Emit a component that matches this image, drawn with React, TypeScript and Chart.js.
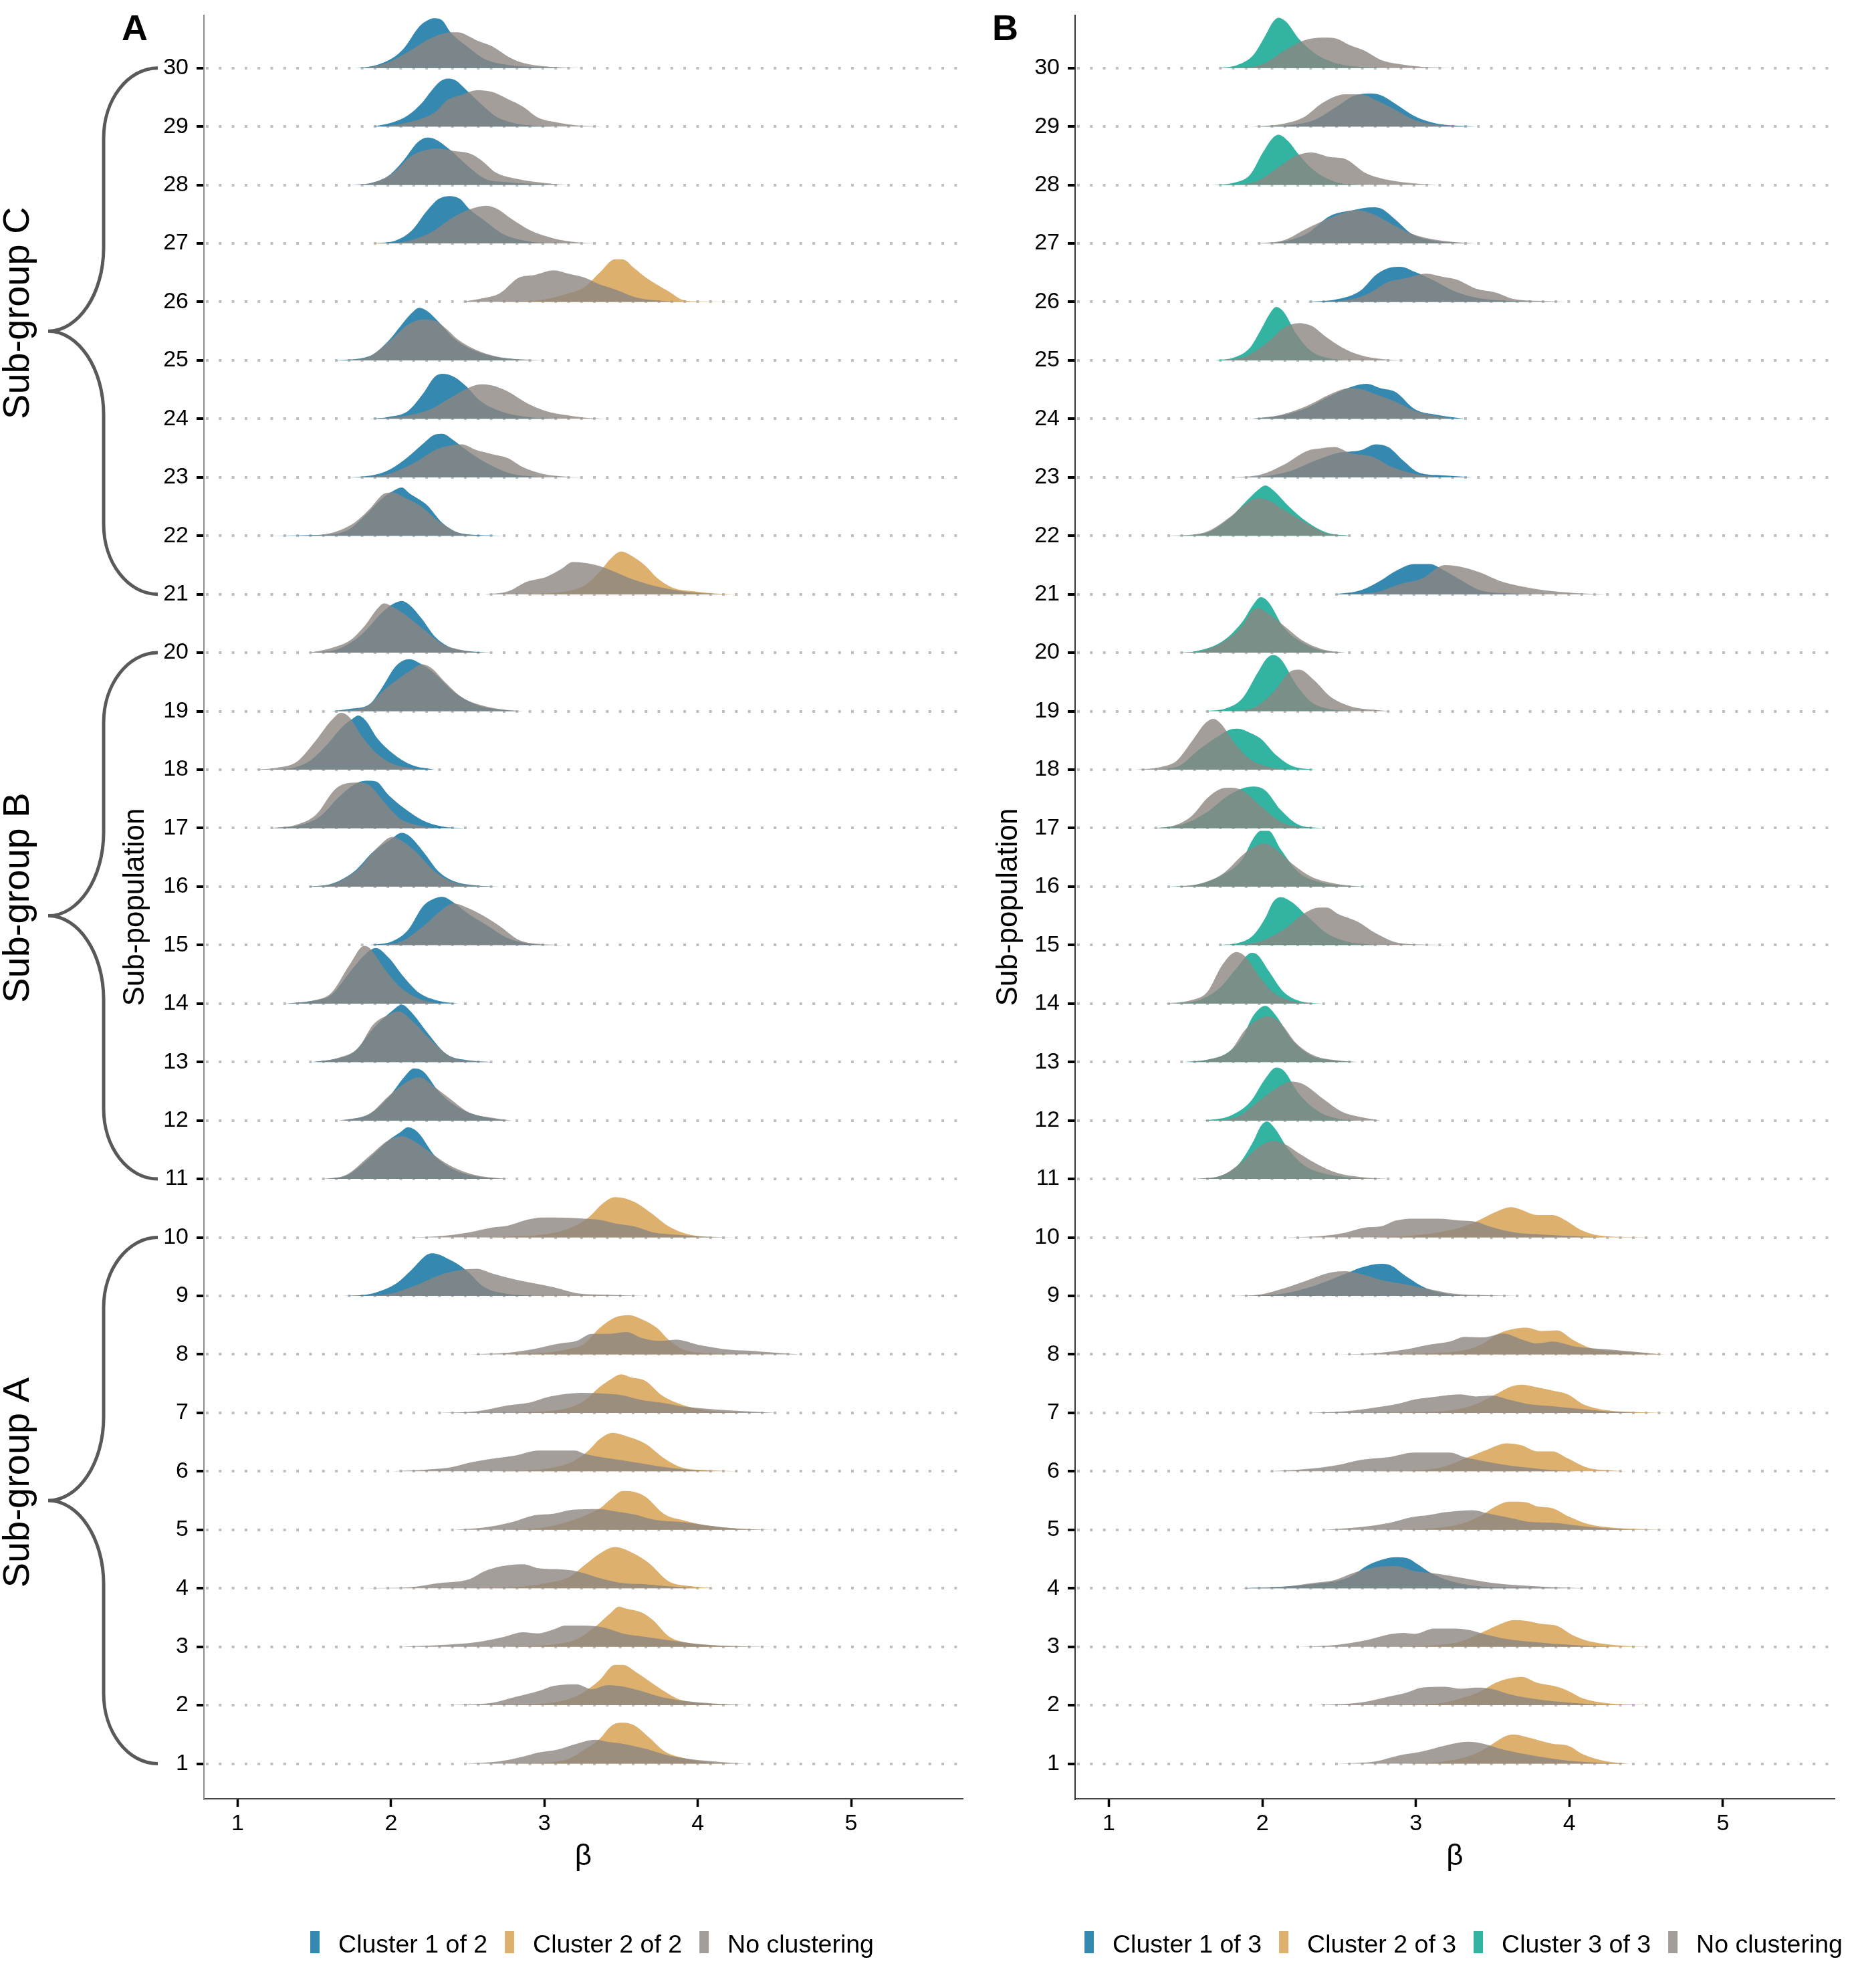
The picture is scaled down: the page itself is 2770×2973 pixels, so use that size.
import React, { useEffect, useRef } from "react";
import { Chart, registerables } from "chart.js";

Chart.register(...registerables);

const FONT = '"Liberation Sans", Arial, Helvetica, sans-serif';

// ---------------- tick labels / categories ----------------
const Y_TICKS = [1, 2, 3, 4, 5, 6, 7, 8, 9, 10, 11, 12, 13, 14, 15, 16, 17, 18, 19, 20, 21, 22, 23, 24, 25, 26, 27, 28, 29, 30];
const X_TICKS = [1, 2, 3, 4, 5];
const LEGEND_A = ["Cluster 1 of 2", "Cluster 2 of 2", "No clustering"];
const LEGEND_B = ["Cluster 1 of 3", "Cluster 2 of 3", "Cluster 3 of 3", "No clustering"];
const SUBGROUPS = [
  { label: "Sub-group A", from: 1, to: 10 },
  { label: "Sub-group B", from: 11, to: 20 },
  { label: "Sub-group C", from: 21, to: 30 },
];

// ---------------- densities: row -> [beta, height(rows), beta, height, ...] ----------------
const A_CLUSTER_1: Record<number, number[]> = {
  30: [1.76, 0, 1.81, .007, 1.91, .054, 2.01, .17, 2.085, .34, 2.185, .71, 2.235, .81, 2.28, .85, 2.335, .81, 2.385, .62, 2.51, .34, 2.61, .155, 2.76, .054, 2.91, .02, 3.135, 0],
  29: [1.885, 0, 2.01, .07, 2.11, .19, 2.2, .4, 2.26, .6, 2.32, .77, 2.37, .82, 2.42, .79, 2.485, .64, 2.585, .39, 2.685, .17, 2.81, .054, 2.935, .013, 3.06, 0],
  28: [1.735, 0, 1.86, .027, 1.985, .16, 2.085, .43, 2.17, .72, 2.235, .81, 2.285, .785, 2.385, .6, 2.485, .36, 2.61, .11, 2.76, .047, 2.96, .013, 3.085, 0],
  27: [1.885, 0, 2.035, .054, 2.135, .22, 2.235, .56, 2.31, .76, 2.385, .81, 2.45, .76, 2.51, .59, 2.61, .39, 2.735, .154, 2.885, .04, 3.01, 0],
  25: [1.635, 0, 1.86, .074, 1.985, .34, 2.06, .58, 2.135, .81, 2.185, .9, 2.235, .845, 2.31, .66, 2.41, .376, 2.51, .208, 2.66, .074, 2.81, .02, 2.91, 0],
  24: [1.86, 0, 1.985, .034, 2.11, .134, 2.21, .436, 2.285, .72, 2.335, .77, 2.41, .72, 2.485, .57, 2.585, .3, 2.71, .134, 2.885, .034, 3.06, 0],
  23: [1.635, 0, 1.81, .013, 1.96, .094, 2.085, .295, 2.21, .577, 2.285, .73, 2.335, .745, 2.41, .63, 2.51, .43, 2.635, .228, 2.785, .06, 2.935, .013, 3.06, 0],
  22: [1.21, 0, 1.51, .013, 1.71, .087, 1.835, .356, 1.935, .624, 2.01, .76, 2.07, .825, 2.12, .725, 2.235, .523, 2.335, .22, 2.46, .04, 2.66, .007, 2.735, 0],
  20: [1.485, 0, 1.66, .067, 1.81, .315, 1.935, .67, 2.01, .83, 2.07, .885, 2.12, .82, 2.2, .584, 2.285, .28, 2.385, .094, 2.51, .027, 2.66, 0],
  19: [1.61, 0, 1.735, .04, 1.86, .12, 1.935, .376, 2.035, .78, 2.12, .89, 2.185, .825, 2.285, .644, 2.41, .33, 2.56, .107, 2.735, .02, 2.835, 0],
  18: [1.135, 0, 1.31, .013, 1.46, .134, 1.585, .436, 1.685, .74, 1.75, .872, 1.785, .926, 1.835, .84, 1.91, .537, 2.01, .28, 2.135, .08, 2.285, 0],
  17: [1.235, 0, 1.385, .04, 1.535, .195, 1.66, .53, 1.76, .745, 1.835, .81, 1.9, .8, 1.985, .564, 2.085, .342, 2.21, .128, 2.335, .027, 2.485, 0],
  16: [1.46, 0, 1.61, .047, 1.76, .26, 1.885, .6, 1.995, .8, 2.07, .92, 2.12, .866, 2.21, .6, 2.31, .26, 2.41, .094, 2.56, .02, 2.71, 0],
  15: [1.86, 0, 2.01, .067, 2.11, .255, 2.21, .67, 2.285, .8, 2.335, .825, 2.41, .725, 2.51, .523, 2.635, .322, 2.76, .12, 2.91, .02, 3.06, 0],
  14: [1.31, 0, 1.485, .047, 1.61, .148, 1.735, .55, 1.835, .85, 1.9, .95, 1.985, .785, 2.085, .45, 2.185, .18, 2.31, .047, 2.435, 0],
  13: [1.485, 0, 1.635, .054, 1.76, .174, 1.885, .577, 2.01, .88, 2.07, .98, 2.135, .846, 2.235, .51, 2.36, .14, 2.51, .027, 2.66, 0],
  12: [1.685, 0, 1.86, .114, 1.985, .4, 2.085, .74, 2.15, .89, 2.21, .84, 2.31, .5, 2.41, .27, 2.51, .134, 2.66, .034, 2.76, 0],
  11: [1.585, 0, 1.71, .06, 1.86, .36, 1.985, .664, 2.06, .8, 2.11, .886, 2.175, .8, 2.285, .4, 2.41, .16, 2.56, .04, 2.71, 0],
  9: [1.685, 0, 1.81, .013, 1.91, .067, 2.035, .215, 2.135, .45, 2.235, .705, 2.27, .73, 2.385, .617, 2.485, .45, 2.61, .148, 2.76, .034, 2.96, 0],
};

const A_CLUSTER_2: Record<number, number[]> = {
  26: [2.71, 0, 2.96, .027, 3.135, .128, 3.26, .25, 3.36, .5, 3.46, .73, 3.51, .73, 3.585, .58, 3.66, .42, 3.81, .18, 3.91, .027, 4.01, .007, 4.26, 0],
  21: [2.885, 0, 3.135, .047, 3.26, .148, 3.36, .383, 3.435, .617, 3.5, .73, 3.56, .67, 3.66, .483, 3.735, .28, 3.835, .114, 3.985, .047, 4.11, .013, 4.26, 0],
  10: [2.51, 0, 2.76, .013, 3.01, .054, 3.16, .154, 3.285, .336, 3.385, .59, 3.46, .69, 3.585, .61, 3.71, .39, 3.81, .188, 3.935, .054, 4.085, .007, 4.26, 0],
  8: [2.76, 0, 3.01, .027, 3.16, .094, 3.26, .18, 3.36, .45, 3.46, .63, 3.55, .67, 3.635, .6, 3.735, .45, 3.81, .25, 3.91, .08, 4.06, .02, 4.26, 0],
  7: [2.81, 0, 3.01, .027, 3.16, .087, 3.26, .208, 3.36, .443, 3.435, .577, 3.5, .658, 3.56, .61, 3.66, .544, 3.76, .31, 3.86, .175, 3.985, .074, 4.135, .02, 4.31, 0],
  6: [2.635, 0, 2.885, .013, 3.06, .067, 3.185, .168, 3.285, .35, 3.36, .55, 3.445, .658, 3.535, .6, 3.66, .47, 3.785, .215, 3.91, .054, 4.06, .02, 4.26, 0],
  5: [2.71, 0, 2.96, .027, 3.16, .14, 3.26, .24, 3.36, .362, 3.435, .53, 3.51, .664, 3.585, .65, 3.66, .564, 3.785, .262, 3.91, .16, 4.06, .074, 4.26, .02, 4.46, 0],
  4: [2.51, 0, 2.81, .02, 3.01, .087, 3.16, .188, 3.26, .39, 3.36, .59, 3.46, .705, 3.585, .59, 3.685, .423, 3.81, .12, 3.96, .034, 4.11, 0],
  3: [2.76, 0, 3.01, .027, 3.21, .128, 3.335, .35, 3.435, .584, 3.485, .685, 3.535, .65, 3.635, .584, 3.71, .45, 3.81, .18, 3.91, .08, 4.06, .034, 4.31, 0],
  2: [2.71, 0, 2.96, .02, 3.16, .107, 3.26, .228, 3.36, .43, 3.46, .69, 3.51, .69, 3.61, .544, 3.76, .275, 3.885, .094, 4.06, .027, 4.26, 0],
  1: [2.76, 0, 3.01, .02, 3.16, .087, 3.26, .24, 3.36, .423, 3.435, .644, 3.5, .7, 3.585, .658, 3.685, .443, 3.785, .208, 3.91, .094, 4.06, .027, 4.26, 0],
};

const A_NO_CLUSTERING: Record<number, number[]> = {
  30: [1.81, 0, 1.96, .074, 2.11, .275, 2.26, .51, 2.36, .6, 2.435, .61, 2.51, .54, 2.56, .47, 2.66, .37, 2.76, .2, 2.86, .087, 3.01, .027, 3.135, .007, 3.26, 0],
  29: [1.935, 0, 2.085, .054, 2.235, .17, 2.3, .27, 2.36, .44, 2.46, .54, 2.56, .62, 2.66, .59, 2.76, .47, 2.86, .34, 2.96, .15, 3.085, .067, 3.21, .02, 3.385, 0],
  28: [1.76, 0, 1.885, .04, 2.01, .195, 2.135, .5, 2.235, .6, 2.31, .62, 2.41, .58, 2.51, .54, 2.585, .43, 2.685, .21, 2.81, .11, 2.96, .047, 3.11, .007, 3.16, 0],
  27: [1.935, 0, 2.11, .04, 2.26, .19, 2.41, .456, 2.51, .58, 2.62, .644, 2.685, .6, 2.785, .42, 2.91, .22, 3.06, .087, 3.21, .02, 3.36, 0],
  26: [2.46, 0, 2.61, .067, 2.71, .148, 2.835, .416, 2.935, .46, 3.06, .54, 3.16, .48, 3.26, .416, 3.36, .3, 3.46, .215, 3.61, .067, 3.76, .02, 3.91, 0],
  25: [1.71, 0, 1.86, .067, 2.01, .376, 2.11, .61, 2.21, .7, 2.285, .68, 2.36, .54, 2.435, .36, 2.56, .174, 2.71, .054, 2.885, .013, 3.01, 0],
  24: [1.885, 0, 2.085, .047, 2.26, .168, 2.385, .356, 2.51, .537, 2.585, .59, 2.66, .57, 2.76, .47, 2.885, .27, 3.01, .134, 3.135, .067, 3.26, .02, 3.41, 0],
  23: [1.76, 0, 1.96, .04, 2.16, .26, 2.285, .463, 2.36, .53, 2.46, .564, 2.56, .463, 2.66, .396, 2.76, .33, 2.86, .174, 2.985, .06, 3.135, .013, 3.31, 0],
  22: [1.385, 0, 1.585, .034, 1.76, .22, 1.86, .456, 1.96, .725, 2.01, .74, 2.085, .658, 2.185, .523, 2.31, .255, 2.435, .054, 2.56, .007, 2.635, 0],
  21: [2.61, 0, 2.76, .047, 2.885, .215, 3.01, .295, 3.11, .43, 3.185, .55, 3.26, .537, 3.36, .483, 3.46, .383, 3.56, .27, 3.71, .148, 3.91, .047, 4.06, .013, 4.21, 0],
  20: [1.46, 0, 1.61, .08, 1.735, .215, 1.835, .483, 1.91, .75, 1.955, .845, 2.01, .785, 2.11, .617, 2.235, .35, 2.335, .148, 2.46, .047, 2.56, 0],
  19: [1.635, 0, 1.835, .074, 1.96, .376, 2.06, .577, 2.135, .71, 2.2, .8, 2.26, .745, 2.36, .477, 2.46, .24, 2.61, .087, 2.76, .02, 2.86, 0],
  18: [1.11, 0, 1.26, .034, 1.385, .134, 1.51, .5, 1.61, .84, 1.675, .973, 1.725, .906, 1.81, .57, 1.91, .27, 2.01, .1, 2.11, .034, 2.21, 0],
  17: [1.21, 0, 1.385, .06, 1.51, .228, 1.635, .664, 1.71, .765, 1.785, .78, 1.86, .73, 1.96, .43, 2.06, .16, 2.16, .06, 2.285, 0],
  16: [1.485, 0, 1.635, .06, 1.785, .295, 1.91, .664, 2.01, .85, 2.06, .8, 2.16, .6, 2.285, .26, 2.41, .074, 2.56, .013, 2.66, 0],
  15: [1.91, 0, 2.06, .054, 2.21, .322, 2.31, .557, 2.41, .71, 2.51, .624, 2.61, .49, 2.71, .322, 2.835, .087, 2.96, .02, 3.135, 0],
  14: [1.335, 0, 1.51, .06, 1.61, .18, 1.735, .685, 1.825, .986, 1.86, .95, 1.96, .584, 2.06, .28, 2.185, .08, 2.31, 0],
  13: [1.51, 0, 1.66, .074, 1.785, .24, 1.885, .644, 1.985, .81, 2.05, .866, 2.135, .71, 2.26, .376, 2.385, .094, 2.56, .013, 2.66, 0],
  12: [1.66, 0, 1.86, .114, 1.985, .42, 2.11, .67, 2.185, .74, 2.285, .57, 2.385, .37, 2.51, .134, 2.66, .047, 2.785, 0],
  11: [1.56, 0, 1.71, .074, 1.86, .396, 1.985, .664, 2.07, .73, 2.16, .63, 2.285, .396, 2.41, .195, 2.56, .06, 2.76, 0],
  10: [2.11, 0, 2.31, .02, 2.51, .087, 2.66, .168, 2.76, .2, 2.885, .3, 2.985, .342, 3.16, .336, 3.26, .32, 3.36, .3, 3.46, .24, 3.585, .188, 3.71, .087, 3.86, .047, 4.06, .013, 4.26, 0],
  9: [1.81, 0, 2.01, .047, 2.16, .18, 2.31, .35, 2.435, .436, 2.56, .463, 2.66, .383, 2.81, .28, 2.935, .215, 3.06, .148, 3.21, .047, 3.41, .02, 3.66, 0],
  8: [2.51, 0, 2.76, .027, 2.935, .094, 3.085, .18, 3.21, .23, 3.31, .35, 3.41, .35, 3.535, .383, 3.635, .28, 3.76, .23, 3.86, .25, 4.01, .16, 4.21, .08, 4.36, .06, 4.51, .027, 4.66, 0],
  7: [2.31, 0, 2.56, .027, 2.76, .128, 2.91, .18, 3.01, .262, 3.135, .322, 3.26, .342, 3.385, .33, 3.51, .3, 3.635, .22, 3.76, .175, 3.91, .107, 4.11, .06, 4.31, .027, 4.51, 0],
  6: [2.01, 0, 2.26, .034, 2.385, .067, 2.51, .148, 2.66, .215, 2.81, .27, 2.96, .356, 3.085, .356, 3.2, .356, 3.26, .3, 3.385, .235, 3.51, .188, 3.635, .134, 3.76, .08, 3.91, .034, 4.11, 0],
  5: [2.41, 0, 2.61, .04, 2.785, .128, 2.935, .248, 3.06, .275, 3.185, .342, 3.36, .356, 3.46, .315, 3.585, .262, 3.71, .174, 3.91, .128, 4.06, .074, 4.26, .02, 4.51, 0],
  4: [1.81, 0, 2.135, .02, 2.31, .087, 2.51, .154, 2.61, .29, 2.71, .37, 2.86, .41, 2.96, .342, 3.11, .322, 3.21, .29, 3.36, .174, 3.51, .087, 3.66, .067, 3.81, .034, 4.01, 0],
  3: [2.06, 0, 2.31, .027, 2.56, .08, 2.735, .168, 2.86, .248, 2.96, .228, 3.06, .295, 3.135, .362, 3.26, .362, 3.385, .33, 3.51, .228, 3.66, .168, 3.86, .094, 4.06, .034, 4.31, .007, 4.51, 0],
  2: [2.36, 0, 2.66, .04, 2.81, .14, 2.96, .24, 3.06, .33, 3.21, .356, 3.31, .275, 3.41, .342, 3.51, .322, 3.635, .24, 3.76, .14, 3.91, .074, 4.11, .027, 4.31, 0],
  1: [2.485, 0, 2.71, .04, 2.86, .12, 2.96, .188, 3.085, .24, 3.185, .322, 3.335, .41, 3.41, .376, 3.51, .342, 3.66, .255, 3.81, .14, 3.96, .074, 4.16, .027, 4.31, 0],
};

const B_CLUSTER_1: Record<number, number[]> = {
  29: [1.97, 0, 2.19, .027, 2.34, .114, 2.49, .35, 2.59, .517, 2.69, .564, 2.77, .537, 2.87, .383, 2.99, .18, 3.12, .06, 3.32, .007, 3.39, 0],
  27: [1.97, 0, 2.14, .034, 2.29, .168, 2.44, .47, 2.59, .57, 2.72, .617, 2.77, .6, 2.87, .4, 2.97, .168, 3.12, .047, 3.32, .007, 3.42, 0],
  26: [2.29, 0, 2.49, .047, 2.64, .195, 2.74, .463, 2.82, .577, 2.9, .6, 2.99, .517, 3.12, .362, 3.24, .195, 3.39, .074, 3.59, .02, 3.79, 0],
  24: [1.94, 0, 2.14, .067, 2.29, .188, 2.44, .39, 2.59, .557, 2.68, .6, 2.77, .523, 2.87, .456, 2.99, .17, 3.14, .067, 3.32, 0],
  23: [1.79, 0, 2.04, .027, 2.19, .114, 2.34, .28, 2.49, .416, 2.64, .463, 2.74, .564, 2.82, .517, 2.92, .28, 3.02, .08, 3.17, .034, 3.37, 0],
  21: [2.47, 0, 2.64, .067, 2.77, .235, 2.87, .4, 2.99, .517, 3.09, .517, 3.19, .4, 3.29, .248, 3.42, .067, 3.62, .013, 3.74, 0],
  9: [1.94, 0, 2.14, .04, 2.34, .175, 2.54, .376, 2.64, .483, 2.77, .55, 2.83, .53, 2.94, .33, 3.07, .128, 3.22, .027, 3.39, 0],
  4: [1.87, 0, 2.14, .027, 2.34, .074, 2.49, .128, 2.57, .195, 2.69, .396, 2.79, .497, 2.87, .53, 2.94, .517, 3.02, .396, 3.09, .275, 3.22, .128, 3.39, .04, 3.74, .007, 3.99, 0],
};

const B_CLUSTER_2: Record<number, number[]> = {
  10: [2.74, 0, 2.99, .034, 3.24, .134, 3.39, .27, 3.52, .436, 3.62, .517, 3.69, .47, 3.79, .383, 3.89, .383, 3.97, .3, 4.07, .134, 4.19, .034, 4.39, .007, 4.54, 0],
  8: [2.74, 0, 3.12, .02, 3.34, .087, 3.44, .188, 3.54, .356, 3.64, .436, 3.72, .456, 3.82, .4, 3.92, .41, 4.02, .255, 4.14, .107, 4.29, .054, 4.49, .02, 4.64, 0],
  7: [2.74, 0, 3.09, .013, 3.24, .047, 3.39, .148, 3.52, .315, 3.62, .45, 3.69, .483, 3.79, .436, 3.89, .383, 3.99, .315, 4.09, .148, 4.24, .047, 4.44, .013, 4.64, 0],
  6: [2.74, 0, 3.04, .02, 3.19, .087, 3.34, .24, 3.47, .376, 3.59, .477, 3.69, .443, 3.79, .342, 3.89, .342, 3.99, .22, 4.12, .06, 4.29, .013, 4.39, 0],
  5: [2.84, 0, 3.09, .02, 3.29, .1, 3.42, .235, 3.52, .4, 3.61, .48, 3.72, .47, 3.79, .4, 3.89, .37, 3.99, .235, 4.12, .1, 4.29, .034, 4.54, .007, 4.64, 0],
  3: [2.74, 0, 3.09, .02, 3.29, .087, 3.44, .255, 3.54, .376, 3.64, .456, 3.72, .443, 3.82, .39, 3.92, .356, 4.02, .2, 4.14, .087, 4.34, .02, 4.54, 0],
  2: [2.74, 0, 3.14, .027, 3.29, .114, 3.42, .235, 3.52, .383, 3.62, .463, 3.69, .483, 3.79, .383, 3.92, .315, 3.99, .248, 4.09, .114, 4.24, .034, 4.44, .007, 4.59, 0],
  1: [2.94, 0, 3.19, .04, 3.39, .175, 3.49, .322, 3.59, .477, 3.64, .497, 3.74, .443, 3.89, .342, 3.99, .31, 4.09, .16, 4.24, .04, 4.39, 0],
};

const B_CLUSTER_3: Record<number, number[]> = {
  30: [1.72, 0, 1.84, .054, 1.94, .22, 2.02, .557, 2.07, .79, 2.105, .86, 2.155, .79, 2.24, .49, 2.34, .255, 2.49, .074, 2.64, .02, 2.79, 0],
  28: [1.67, 0, 1.82, .04, 1.92, .174, 2.0, .54, 2.07, .81, 2.105, .86, 2.17, .745, 2.24, .51, 2.34, .24, 2.49, .04, 2.64, 0],
  25: [1.69, 0, 1.82, .054, 1.92, .22, 1.99, .523, 2.055, .825, 2.09, .913, 2.14, .825, 2.22, .456, 2.32, .154, 2.44, .034, 2.54, 0],
  22: [1.44, 0, 1.62, .04, 1.79, .31, 1.89, .577, 1.97, .78, 2.02, .86, 2.07, .78, 2.17, .51, 2.29, .24, 2.42, .054, 2.57, 0],
  20: [1.44, 0, 1.57, .027, 1.74, .195, 1.87, .53, 1.94, .82, 1.99, .95, 2.04, .866, 2.14, .43, 2.27, .16, 2.39, .04, 2.54, 0],
  19: [1.62, 0, 1.77, .054, 1.87, .22, 1.97, .66, 2.03, .906, 2.07, .96, 2.12, .89, 2.22, .456, 2.32, .154, 2.44, .034, 2.59, 0],
  18: [1.24, 0, 1.44, .047, 1.59, .35, 1.72, .584, 1.79, .685, 1.84, .7, 1.92, .63, 1.99, .53, 2.09, .248, 2.19, .067, 2.34, 0],
  17: [1.32, 0, 1.49, .074, 1.64, .275, 1.77, .544, 1.87, .68, 1.94, .71, 2.02, .644, 2.12, .31, 2.24, .054, 2.39, 0],
  16: [1.39, 0, 1.57, .034, 1.74, .2, 1.87, .47, 1.94, .82, 1.99, .953, 2.04, .953, 2.12, .637, 2.24, .235, 2.37, .08, 2.54, .013, 2.69, 0],
  15: [1.72, 0, 1.84, .034, 1.94, .168, 2.02, .47, 2.07, .74, 2.12, .82, 2.19, .74, 2.29, .5, 2.42, .2, 2.54, .067, 2.69, .013, 2.79, 0],
  14: [1.42, 0, 1.59, .06, 1.72, .262, 1.84, .63, 1.93, .866, 1.97, .83, 2.04, .564, 2.14, .195, 2.24, .047, 2.39, 0],
  13: [1.49, 0, 1.64, .04, 1.77, .154, 1.87, .423, 1.94, .79, 2.02, .96, 2.09, .79, 2.19, .39, 2.32, .107, 2.47, .027, 2.59, 0],
  12: [1.62, 0, 1.79, .08, 1.92, .315, 2.02, .72, 2.09, .906, 2.14, .852, 2.24, .45, 2.37, .148, 2.49, .034, 2.64, 0],
  11: [1.57, 0, 1.72, .047, 1.84, .235, 1.94, .64, 1.99, .906, 2.03, .986, 2.08, .87, 2.17, .503, 2.27, .235, 2.39, .1, 2.54, .034, 2.69, 0],
};

const B_NO_CLUSTERING: Record<number, number[]> = {
  30: [1.79, 0, 1.99, .054, 2.14, .29, 2.27, .47, 2.39, .52, 2.47, .51, 2.57, .39, 2.67, .29, 2.77, .14, 2.89, .067, 3.04, .02, 3.24, 0],
  29: [1.92, 0, 2.12, .04, 2.27, .16, 2.39, .4, 2.54, .55, 2.64, .55, 2.74, .45, 2.87, .28, 2.99, .114, 3.14, .027, 3.32, 0],
  28: [1.74, 0, 1.94, .04, 2.09, .275, 2.22, .5, 2.32, .557, 2.44, .477, 2.54, .443, 2.67, .208, 2.82, .087, 2.99, .027, 3.14, 0],
  27: [1.97, 0, 2.14, .054, 2.29, .255, 2.44, .436, 2.62, .57, 2.72, .503, 2.84, .336, 2.97, .168, 3.09, .08, 3.24, .027, 3.39, 0],
  26: [2.34, 0, 2.54, .027, 2.69, .14, 2.82, .342, 2.92, .396, 3.07, .483, 3.17, .43, 3.27, .376, 3.39, .228, 3.52, .16, 3.64, .047, 3.84, .013, 3.97, 0],
  25: [1.74, 0, 1.89, .067, 2.04, .322, 2.14, .557, 2.24, .637, 2.32, .59, 2.42, .39, 2.52, .22, 2.64, .087, 2.79, .02, 2.94, 0],
  24: [1.92, 0, 2.12, .067, 2.29, .22, 2.44, .42, 2.57, .523, 2.64, .51, 2.74, .42, 2.87, .29, 2.99, .14, 3.12, .054, 3.24, 0],
  23: [1.79, 0, 1.99, .047, 2.14, .215, 2.29, .45, 2.39, .497, 2.47, .517, 2.57, .416, 2.72, .35, 2.84, .18, 2.99, .06, 3.14, 0],
  22: [1.39, 0, 1.62, .054, 1.79, .322, 1.89, .544, 1.97, .644, 2.04, .61, 2.14, .443, 2.27, .24, 2.42, .04, 2.59, 0],
  21: [2.49, 0, 2.74, .034, 2.89, .168, 3.04, .27, 3.19, .5, 3.29, .47, 3.42, .37, 3.54, .235, 3.69, .134, 3.84, .067, 4.04, .02, 4.24, 0],
  20: [1.47, 0, 1.62, .04, 1.77, .228, 1.87, .463, 1.93, .7, 1.97, .765, 2.04, .664, 2.14, .463, 2.27, .195, 2.39, .06, 2.54, 0],
  19: [1.79, 0, 1.94, .054, 2.07, .32, 2.19, .69, 2.24, .71, 2.34, .523, 2.44, .255, 2.57, .087, 2.74, .02, 2.84, 0],
  18: [1.17, 0, 1.34, .047, 1.44, .148, 1.54, .483, 1.63, .8, 1.68, .87, 1.73, .785, 1.82, .45, 1.92, .18, 2.04, .047, 2.17, 0],
  17: [1.27, 0, 1.42, .04, 1.54, .208, 1.64, .51, 1.72, .664, 1.79, .69, 1.87, .644, 1.99, .376, 2.12, .107, 2.24, .02, 2.34, 0],
  16: [1.44, 0, 1.59, .047, 1.74, .215, 1.87, .537, 1.94, .67, 2.01, .74, 2.09, .637, 2.19, .4, 2.32, .168, 2.47, .054, 2.64, 0],
  15: [1.82, 0, 1.99, .067, 2.14, .27, 2.27, .537, 2.37, .64, 2.42, .64, 2.49, .537, 2.62, .4, 2.74, .2, 2.89, .034, 3.07, .007, 3.24, 0],
  14: [1.37, 0, 1.54, .06, 1.64, .195, 1.74, .664, 1.83, .88, 1.89, .8, 1.97, .497, 2.07, .195, 2.19, .047, 2.34, 0],
  13: [1.52, 0, 1.67, .054, 1.79, .188, 1.89, .557, 1.97, .725, 2.04, .78, 2.12, .66, 2.22, .322, 2.34, .107, 2.49, .027, 2.62, 0],
  12: [1.62, 0, 1.82, .047, 1.97, .315, 2.09, .55, 2.19, .664, 2.27, .617, 2.39, .383, 2.52, .148, 2.64, .06, 2.77, 0],
  11: [1.57, 0, 1.74, .067, 1.87, .3, 1.97, .537, 2.07, .65, 2.14, .604, 2.24, .436, 2.37, .235, 2.49, .1, 2.64, .034, 2.82, 0],
  10: [2.14, 0, 2.37, .02, 2.54, .08, 2.67, .168, 2.77, .188, 2.87, .29, 2.99, .322, 3.14, .322, 3.29, .29, 3.39, .27, 3.49, .18, 3.64, .087, 3.84, .047, 4.04, .02, 4.24, 0],
  9: [1.79, 0, 1.99, .027, 2.14, .128, 2.29, .262, 2.44, .396, 2.54, .423, 2.64, .376, 2.79, .262, 2.94, .195, 3.09, .114, 3.24, .04, 3.44, .013, 3.69, 0],
  8: [2.49, 0, 2.74, .02, 2.94, .087, 3.09, .168, 3.22, .22, 3.32, .3, 3.44, .29, 3.57, .356, 3.69, .255, 3.79, .188, 3.89, .22, 4.04, .134, 4.24, .087, 4.39, .054, 4.59, 0],
  7: [2.29, 0, 2.54, .027, 2.74, .094, 2.89, .16, 2.99, .228, 3.14, .28, 3.29, .315, 3.39, .28, 3.49, .295, 3.62, .215, 3.74, .148, 3.89, .114, 4.07, .067, 4.24, .027, 4.44, 0],
  6: [2.04, 0, 2.29, .04, 2.49, .107, 2.64, .195, 2.82, .24, 2.99, .322, 3.12, .322, 3.22, .322, 3.32, .24, 3.44, .175, 3.59, .107, 3.74, .06, 3.89, .02, 4.04, 0],
  5: [2.39, 0, 2.64, .047, 2.82, .114, 2.97, .215, 3.09, .255, 3.19, .3, 3.37, .336, 3.47, .28, 3.62, .2, 3.74, .134, 3.89, .12, 4.07, .067, 4.24, .027, 4.44, 0],
  4: [1.87, 0, 2.14, .027, 2.34, .094, 2.47, .14, 2.59, .26, 2.74, .36, 2.87, .38, 2.99, .295, 3.14, .248, 3.34, .16, 3.49, .094, 3.69, .047, 3.94, .013, 4.09, 0],
  3: [2.24, 0, 2.49, .034, 2.69, .12, 2.82, .208, 2.92, .235, 2.99, .22, 3.12, .31, 3.24, .31, 3.34, .29, 3.44, .22, 3.59, .134, 3.74, .087, 3.89, .054, 4.09, .02, 4.29, 0],
  2: [2.34, 0, 2.64, .047, 2.79, .128, 2.94, .215, 3.04, .3, 3.19, .315, 3.29, .28, 3.39, .3, 3.49, .28, 3.62, .18, 3.79, .1, 3.99, .047, 4.19, .013, 4.34, 0],
  1: [2.49, 0, 2.74, .04, 2.89, .14, 3.04, .208, 3.19, .31, 3.34, .376, 3.44, .342, 3.57, .24, 3.69, .175, 3.84, .107, 4.04, .04, 4.24, .013, 4.39, 0],
};

// ---------------- styles ----------------
const COL_C1 = "rgba(2,107,157,0.8)";
const COL_C2 = "rgba(212,156,74,0.8)";
const COL_C3 = "rgba(0,160,139,0.8)";
const COL_NONE = "rgba(140,134,129,0.8)";

type Series = { data: Record<number, number[]>; color: string };

function makeDataset(row: number, flat: number[], color: string) {
  const pts: { x: number; y: number }[] = [];
  for (let i = 0; i < flat.length; i += 2) pts.push({ x: flat[i], y: row + flat[i + 1] });
  return {
    data: pts,
    fill: { value: row },
    backgroundColor: color,
    borderColor: "rgba(0,0,0,0)",
    borderWidth: 0,
    pointRadius: 0,
    pointHoverRadius: 0,
    cubicInterpolationMode: "monotone" as const,
  };
}

function buildDatasets(clusters: Series[], none: Record<number, number[]>) {
  const ds: any[] = [];
  // lower rows first (drawn on top), grey drawn above the cluster within a row
  for (const row of Y_TICKS) {
    if (none[row]) ds.push(makeDataset(row, none[row], COL_NONE));
    for (const s of clusters) if (s.data[row]) ds.push(makeDataset(row, s.data[row], s.color));
  }
  return ds;
}

type PanelOpts = {
  letter: string;
  letterX: number;
  yAxisWidth: number;
  yTitlePad: number;
  padRight: number;
  yAxisColor: string;
  legend: { label: string; color: string }[];
  braces: boolean;
};

function drawBrace(ctx: CanvasRenderingContext2D, yTop: number, yBot: number) {
  const xEnd = 236, xStem = 155, xTip = 72;
  const yMid = (yTop + yBot) / 2;
  const rEnd = 105, rTip = 125, k = 0.55;
  const dxE = xEnd - xStem, dxT = xStem - xTip;
  ctx.beginPath();
  ctx.moveTo(xEnd, yTop);
  ctx.bezierCurveTo(xStem + dxE * (1 - k), yTop, xStem, yTop + rEnd * (1 - k), xStem, yTop + rEnd);
  ctx.lineTo(xStem, yMid - rTip);
  ctx.bezierCurveTo(xStem, yMid - rTip * (1 - k), xTip + dxT * k, yMid, xTip, yMid);
  ctx.bezierCurveTo(xTip + dxT * k, yMid, xStem, yMid + rTip * (1 - k), xStem, yMid + rTip);
  ctx.lineTo(xStem, yBot - rEnd);
  ctx.bezierCurveTo(xStem, yBot - rEnd * (1 - k), xStem + dxE * (1 - k), yBot, xEnd, yBot);
  ctx.stroke();
}

function extrasPlugin(o: PanelOpts) {
  return {
    id: "extras" + o.letter,
    afterDraw(chart: any) {
      const ctx: CanvasRenderingContext2D = chart.ctx;
      const { left, right } = chart.chartArea;
      ctx.save();
      // panel letter
      ctx.fillStyle = "#000";
      ctx.font = `bold 54px ${FONT}`;
      ctx.textAlign = "left";
      ctx.textBaseline = "alphabetic";
      ctx.fillText(o.letter, o.letterX, 60);

      // legend
      ctx.font = `37.5px ${FONT}`;
      const boxW = 14, boxH = 33, gapText = 28, gapItem = 26;
      const widths = o.legend.map((it) => ctx.measureText(it.label).width);
      const total = widths.reduce((a, w) => a + boxW + gapText + w, 0) + gapItem * (o.legend.length - 1);
      let x = (left + right) / 2 + 13 - total / 2;
      o.legend.forEach((it, i) => {
        ctx.fillStyle = it.color;
        ctx.fillRect(x, 2888, boxW, boxH);
        x += boxW + gapText;
        ctx.fillStyle = "#000";
        ctx.fillText(it.label, x, 2920);
        x += widths[i] + gapItem;
      });

      // sub-group braces
      if (o.braces) {
        const ys = chart.scales.y;
        ctx.strokeStyle = "#595959";
        ctx.lineWidth = 5;
        ctx.lineCap = "butt";
        SUBGROUPS.forEach((g) => {
          const yTop = ys.getPixelForValue(g.to);
          const yBot = ys.getPixelForValue(g.from);
          drawBrace(ctx, yTop, yBot);
          const yMid = (yTop + yBot) / 2;
          ctx.save();
          ctx.translate(43, yMid - 27);
          ctx.rotate(-Math.PI / 2);
          ctx.fillStyle = "#000";
          ctx.font = `56px ${FONT}`;
          ctx.textAlign = "center";
          ctx.textBaseline = "alphabetic";
          ctx.fillText(g.label, 0, 0);
          ctx.restore();
        });
      }
      ctx.restore();
    },
  };
}

function makeConfig(datasets: any[], o: PanelOpts): any {
  return {
    type: "line",
    data: { datasets },
    options: {
      responsive: false,
      animation: false,
      devicePixelRatio: 1,
      events: [],
      layout: { padding: { left: 0, right: o.padRight, top: 23, bottom: 153 } },
      plugins: { legend: { display: false }, tooltip: { enabled: false } },
      scales: {
        x: {
          type: "linear",
          min: 0.78,
          max: 5.728,
          afterBuildTicks: (s: any) => {
            s.ticks = X_TICKS.map((v) => ({ value: v }));
          },
          afterFit: (s: any) => {
            s.height = 130;
            s.paddingLeft = 0;
            s.paddingRight = 0;
          },
          grid: { display: true, drawOnChartArea: false, drawTicks: true, tickLength: 12, tickColor: "#000", tickWidth: 3.5 },
          border: { display: true, color: "#444", width: 2 },
          ticks: { font: { family: FONT, size: 34 }, color: "#000", padding: 5, maxRotation: 0, autoSkip: false },
          title: { display: true, text: "β", font: { family: FONT, size: 44 }, color: "#000", padding: { top: 0, bottom: 17 } },
        },
        y: {
          type: "linear",
          min: 0.4,
          max: 30.9,
          afterBuildTicks: (s: any) => {
            s.ticks = Y_TICKS.map((v) => ({ value: v }));
          },
          afterFit: (s: any) => {
            s.width = o.yAxisWidth;
            s.paddingTop = 0;
            s.paddingBottom = 0;
          },
          grid: {
            display: true,
            drawOnChartArea: true,
            color: "#bebebe",
            lineWidth: 4,
            drawTicks: true,
            tickLength: 11,
            tickColor: "#000",
            tickWidth: 4,
            tickBorderDash: [],
          },
          border: { display: true, color: o.yAxisColor, width: 2, dash: [4, 15.3], dashOffset: -2 },
          ticks: { font: { family: FONT, size: 34 }, color: "#000", padding: 12, autoSkip: false },
          title: { display: true, text: "Sub-population", font: { family: FONT, size: 44 }, color: "#000", padding: { top: o.yTitlePad, bottom: 0 } },
        },
      },
    },
    plugins: [extrasPlugin(o)],
  };
}

export default function App() {
  const refA = useRef<HTMLCanvasElement>(null);
  const refB = useRef<HTMLCanvasElement>(null);

  useEffect(() => {
    const dsA = buildDatasets(
      [
        { data: A_CLUSTER_1, color: COL_C1 },
        { data: A_CLUSTER_2, color: COL_C2 },
      ],
      A_NO_CLUSTERING
    );
    const dsB = buildDatasets(
      [
        { data: B_CLUSTER_1, color: COL_C1 },
        { data: B_CLUSTER_2, color: COL_C2 },
        { data: B_CLUSTER_3, color: COL_C3 },
      ],
      B_NO_CLUSTERING
    );
    const chartA = new Chart(
      refA.current as HTMLCanvasElement,
      makeConfig(dsA, {
        letter: "A",
        letterX: 182,
        yAxisWidth: 305,
        yTitlePad: 176.6,
        padRight: 10,
        yAxisColor: "#8c8c8c",
        legend: [
          { label: LEGEND_A[0], color: COL_C1 },
          { label: LEGEND_A[1], color: COL_C2 },
          { label: LEGEND_A[2], color: COL_NONE },
        ],
        braces: true,
      })
    );
    const chartB = new Chart(
      refB.current as HTMLCanvasElement,
      makeConfig(dsB, {
        letter: "B",
        letterX: 34,
        yAxisWidth: 158,
        yTitlePad: 32.6,
        padRight: 26,
        yAxisColor: "#333",
        legend: [
          { label: LEGEND_B[0], color: COL_C1 },
          { label: LEGEND_B[1], color: COL_C2 },
          { label: LEGEND_B[2], color: COL_C3 },
          { label: LEGEND_B[3], color: COL_NONE },
        ],
        braces: false,
      })
    );
    return () => {
      chartA.destroy();
      chartB.destroy();
    };
  }, []);

  return (
    <div style={{ position: "absolute", left: 0, top: 0, width: 2770, height: 2973, background: "#fff" }}>
      <canvas ref={refA} width={1450} height={2973} style={{ position: "absolute", left: 0, top: 0, width: 1450, height: 2973 }} />
      <canvas ref={refB} width={1320} height={2973} style={{ position: "absolute", left: 1450, top: 0, width: 1320, height: 2973 }} />
    </div>
  );
}
